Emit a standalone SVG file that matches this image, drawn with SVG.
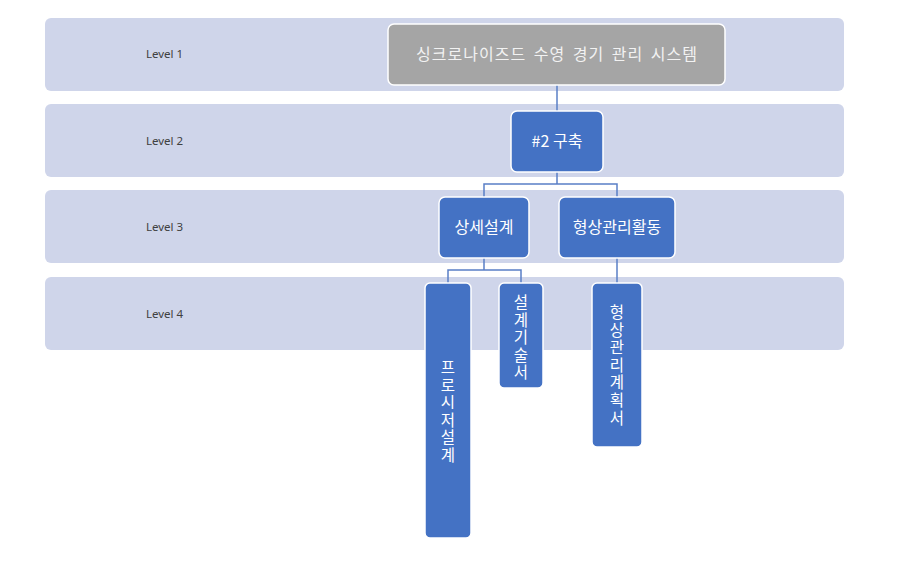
<svg xmlns="http://www.w3.org/2000/svg" width="913" height="574" viewBox="0 0 913 574">
<style>
.band{fill:#cfd5ea;}
.lvl{font-family:"Noto Sans","DejaVu Sans",sans-serif;font-size:11.5px;fill:#404040;}
.node{fill:#4472c4;stroke:#ffffff;stroke-width:1.5;}
.top{fill:#a5a5a5;stroke:#ffffff;stroke-width:1.5;}
.t{font-family:"Noto Sans CJK KR","Noto Sans",sans-serif;font-size:16px;fill:#ffffff;text-anchor:middle;}
.v{font-size:15.5px;}
.tg{fill:#f2f2f2;letter-spacing:1px;word-spacing:3px;}
.conn{fill:none;stroke:#5a7fc6;stroke-width:1.5;}
</style>
<rect width="913" height="574" fill="#ffffff"/>
<g id="bands">
<rect class="band" x="45" y="18" width="799" height="73" rx="6"/>
<rect class="band" x="45" y="104" width="799" height="73" rx="6"/>
<rect class="band" x="45" y="190" width="799" height="73" rx="6"/>
<rect class="band" x="45" y="277" width="799" height="73" rx="6"/>
<text class="lvl" x="146" y="58">Level 1</text>
<text class="lvl" x="146" y="145">Level 2</text>
<text class="lvl" x="146" y="231">Level 3</text>
<text class="lvl" x="146" y="318">Level 4</text>
</g>
<g id="connectors">
<path class="conn" d="M557 85V111"/>
<path class="conn" d="M557 172V184H484V197M557 184H617V197"/>
<path class="conn" d="M484 258V270H448V283M484 270H521V283"/>
<path class="conn" d="M617 258V283"/>
</g>
<g id="n1">
<rect class="top" x="388" y="24" width="337" height="61" rx="6"/>
<text class="t tg" x="557" y="60">싱크로나이즈드 수영 경기 관리 시스템</text>
</g>
<g id="n2">
<rect class="node" x="511" y="111" width="92" height="61" rx="6"/>
<text class="t" x="557" y="147">#2 구축</text>
</g>
<g id="n3">
<rect class="node" x="439" y="197" width="90" height="61" rx="6"/>
<text class="t" x="484" y="233">상세설계</text>
</g>
<g id="n4">
<rect class="node" x="559" y="197" width="116" height="61" rx="6"/>
<text class="t" x="617" y="233">형상관리활동</text>
</g>
<g id="n5">
<rect class="node" x="425" y="283" width="46" height="255" rx="5"/>
<text class="t v" x="448" y="373"><tspan x="448">프</tspan><tspan x="448" dy="17.6">로</tspan><tspan x="448" dy="17.6">시</tspan><tspan x="448" dy="17.6">저</tspan><tspan x="448" dy="17.6">설</tspan><tspan x="448" dy="17.6">계</tspan></text>
</g>
<g id="n6">
<rect class="node" x="499" y="283" width="44" height="105" rx="5"/>
<text class="t v" x="521" y="308"><tspan x="521">설</tspan><tspan x="521" dy="17.6">계</tspan><tspan x="521" dy="17.6">기</tspan><tspan x="521" dy="17.6">술</tspan><tspan x="521" dy="17.6">서</tspan></text>
</g>
<g id="n7">
<rect class="node" x="592" y="283" width="50" height="164" rx="5"/>
<text class="t v" x="617" y="318"><tspan x="617">형</tspan><tspan x="617" dy="17.6">상</tspan><tspan x="617" dy="17.6">관</tspan><tspan x="617" dy="17.6">리</tspan><tspan x="617" dy="17.6">계</tspan><tspan x="617" dy="17.6">획</tspan><tspan x="617" dy="17.6">서</tspan></text>
</g>
</svg>
